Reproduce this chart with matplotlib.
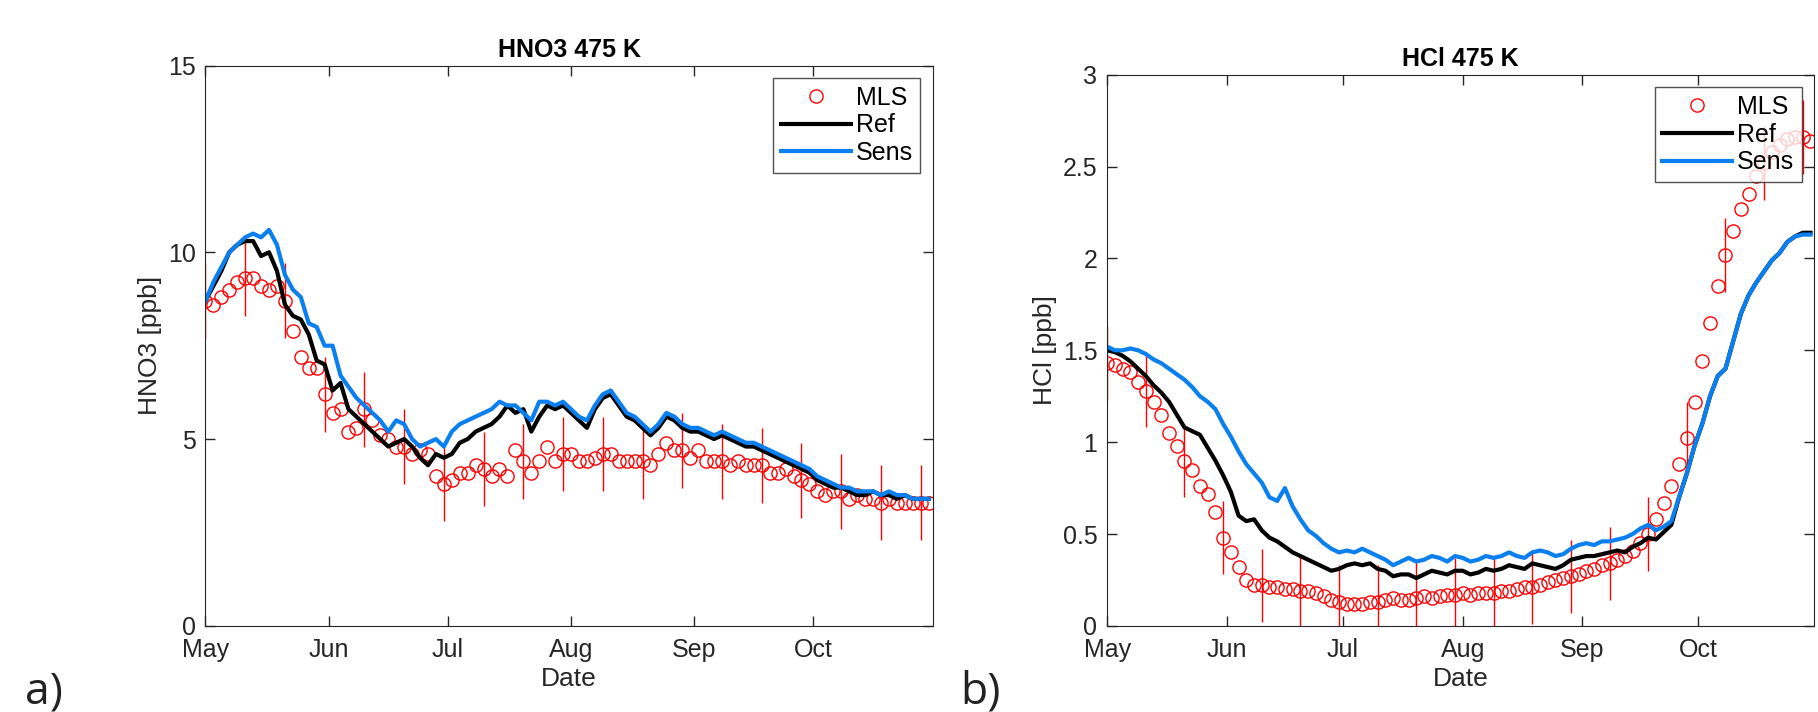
import pandas as pd
import matplotlib
matplotlib.use("Agg")
import matplotlib.pyplot as plt
import matplotlib.dates as mdates

plt.rcParams['font.family'] = ['Liberation Sans', 'DejaVu Sans']

# fechas cada 2 dias desde el 1 de mayo
fechas = pd.date_range('2016-05-01', periods=92, freq='2D')

hno3_ref = [8.7, 9.1, 9.5, 10.0, 10.2, 10.3, 10.3, 9.9, 10.0, 9.5, 8.6, 8.3, 8.2, 7.8, 7.1, 7.0,
            6.3, 6.5, 5.8, 5.6, 5.4, 5.2, 5.0, 4.8, 4.9, 5.0, 4.8, 4.5, 4.3, 4.6, 4.5, 4.6,
            4.9, 5.0, 5.2, 5.3, 5.4, 5.6, 5.9, 5.7, 5.8, 5.2, 5.6, 5.9, 5.8, 5.9, 5.7, 5.5,
            5.3, 5.8, 6.1, 6.2, 5.9, 5.6, 5.5, 5.3, 5.1, 5.3, 5.6, 5.5, 5.3, 5.2, 5.2, 5.1,
            5.0, 5.1, 5.0, 4.9, 4.8, 4.8, 4.7, 4.6, 4.5, 4.4, 4.3, 4.2, 4.1, 3.9, 3.8, 3.7,
            3.7, 3.6, 3.5, 3.5, 3.6, 3.5, 3.5, 3.4, 3.5, 3.4, 3.4, 3.4]
hno3_sens = [8.7, 9.2, 9.6, 10.0, 10.2, 10.4, 10.5, 10.4, 10.6, 10.2, 9.4, 9.0, 8.8, 8.1, 8.0, 7.5,
             7.5, 6.7, 6.4, 6.1, 5.9, 5.7, 5.5, 5.2, 5.5, 5.4, 5.0, 4.8, 4.9, 5.0, 4.8, 5.2,
             5.4, 5.5, 5.6, 5.7, 5.8, 6.0, 5.9, 5.9, 5.7, 5.5, 6.0, 6.0, 5.9, 6.0, 5.8, 5.6,
             5.5, 5.9, 6.2, 6.3, 6.0, 5.7, 5.6, 5.4, 5.2, 5.4, 5.7, 5.6, 5.4, 5.3, 5.3, 5.2,
             5.1, 5.2, 5.1, 5.0, 4.9, 4.9, 4.8, 4.7, 4.6, 4.5, 4.4, 4.3, 4.2, 4.0, 3.9, 3.8,
             3.7, 3.7, 3.6, 3.6, 3.6, 3.5, 3.6, 3.5, 3.5, 3.4, 3.4, 3.4]
hno3_mls = [8.7, 8.6, 8.8, 9.0, 9.2, 9.3, 9.3, 9.1, 9.0, 9.1, 8.7, 7.9, 7.2, 6.9, 6.9, 6.2,
            5.7, 5.8, 5.2, 5.3, 5.8, 5.5, 5.1, 5.0, 4.8, 4.8, 4.6, 4.7, 4.6, 4.0, 3.8, 3.9,
            4.1, 4.1, 4.3, 4.2, 4.0, 4.2, 4.0, 4.7, 4.4, 4.1, 4.4, 4.8, 4.4, 4.6, 4.6, 4.4,
            4.4, 4.5, 4.6, 4.6, 4.4, 4.4, 4.4, 4.4, 4.3, 4.6, 4.9, 4.7, 4.7, 4.5, 4.7, 4.4,
            4.4, 4.4, 4.3, 4.4, 4.3, 4.3, 4.3, 4.1, 4.1, 4.2, 4.0, 3.9, 3.8, 3.6, 3.5, 3.6,
            3.6, 3.4, 3.5, 3.4, 3.4, 3.3, 3.4, 3.3, 3.3, 3.3, 3.3, 3.3]

hcl_ref = [1.50, 1.49, 1.47, 1.44, 1.40, 1.36, 1.31, 1.27, 1.22, 1.15, 1.08, 1.06, 1.04, 0.97, 0.90, 0.82,
           0.73, 0.60, 0.57, 0.58, 0.52, 0.48, 0.46, 0.43, 0.40, 0.38, 0.36, 0.34, 0.32, 0.30, 0.31, 0.33,
           0.34, 0.33, 0.34, 0.31, 0.30, 0.27, 0.28, 0.28, 0.26, 0.28, 0.30, 0.29, 0.28, 0.30, 0.30, 0.28,
           0.29, 0.31, 0.30, 0.31, 0.33, 0.32, 0.31, 0.34, 0.33, 0.32, 0.31, 0.33, 0.36, 0.37, 0.38, 0.38,
           0.39, 0.40, 0.41, 0.40, 0.43, 0.45, 0.48, 0.47, 0.51, 0.55, 0.70, 0.83, 0.98, 1.10, 1.25, 1.36,
           1.40, 1.55, 1.70, 1.80, 1.87, 1.93, 1.99, 2.03, 2.09, 2.12, 2.14, 2.14]
hcl_sens = [1.52, 1.50, 1.50, 1.51, 1.50, 1.48, 1.45, 1.43, 1.40, 1.37, 1.34, 1.30, 1.25, 1.22, 1.18, 1.10,
            1.03, 0.95, 0.88, 0.83, 0.78, 0.70, 0.68, 0.75, 0.65, 0.58, 0.52, 0.49, 0.45, 0.42, 0.40, 0.41,
            0.40, 0.42, 0.40, 0.38, 0.36, 0.33, 0.35, 0.37, 0.35, 0.36, 0.38, 0.37, 0.35, 0.38, 0.37, 0.35,
            0.36, 0.38, 0.37, 0.38, 0.40, 0.38, 0.37, 0.40, 0.41, 0.40, 0.38, 0.39, 0.42, 0.44, 0.45, 0.44,
            0.46, 0.46, 0.47, 0.48, 0.50, 0.53, 0.55, 0.52, 0.54, 0.57, 0.70, 0.83, 0.98, 1.10, 1.25, 1.36,
            1.40, 1.55, 1.70, 1.80, 1.87, 1.93, 1.99, 2.03, 2.09, 2.12, 2.13, 2.13]
hcl_mls = [1.43, 1.42, 1.40, 1.38, 1.33, 1.28, 1.22, 1.15, 1.05, 0.98, 0.90, 0.85, 0.76, 0.72, 0.62, 0.48,
           0.40, 0.32, 0.25, 0.22, 0.22, 0.21, 0.21, 0.20, 0.20, 0.19, 0.19, 0.18, 0.16, 0.14, 0.13, 0.12,
           0.12, 0.12, 0.13, 0.13, 0.14, 0.15, 0.14, 0.14, 0.15, 0.16, 0.15, 0.16, 0.17, 0.17, 0.18, 0.17,
           0.18, 0.18, 0.18, 0.19, 0.19, 0.20, 0.21, 0.21, 0.22, 0.24, 0.25, 0.26, 0.27, 0.28, 0.30, 0.31,
           0.33, 0.34, 0.36, 0.38, 0.41, 0.45, 0.50, 0.58, 0.67, 0.76, 0.88, 1.02, 1.22, 1.44, 1.65, 1.85,
           2.02, 2.15, 2.27, 2.35, 2.45, 2.52, 2.58, 2.62, 2.65, 2.66, 2.66, 2.64]

# barras de error de MLS cada 10 dias
err_hno3 = 1.0
err_hcl = 0.2

meses = pd.date_range('2016-05-01', '2016-10-01', freq='MS')

fig = plt.figure(figsize=(18.18, 7.12), dpi=100)
ax1 = fig.add_axes([0.113, 0.121, 0.400, 0.787])
ax2 = fig.add_axes([0.609, 0.121, 0.389, 0.774])

def panel(ax, mls, ref, sens, err, titulo, ylab, ylim, yticks):
    sel = list(range(0, 92, 5))
    ax.errorbar(fechas[sel], [mls[i] for i in sel], yerr=err, fmt='none',
                ecolor='red', elinewidth=1, capsize=0)
    ax.plot(fechas, mls, 'o', mfc='none', mec='red', ms=9.5, mew=1, label='MLS')
    ax.plot(fechas, ref, color='black', lw=3, label='Ref')
    ax.plot(fechas, sens, color='#0a7ff0', lw=3, label='Sens')
    ax.set_xlim(pd.Timestamp('2016-05-01'), pd.Timestamp('2016-10-31'))
    ax.set_ylim(*ylim)
    ax.set_yticks(yticks)
    ax.set_yticklabels([f'{v:g}' for v in yticks])
    ax.set_xticks(meses)
    ax.xaxis.set_major_formatter(mdates.DateFormatter('%b'))
    ax.tick_params(direction='in', length=7, labelsize=18, top=True, right=True,
                   colors='#262626', width=1)
    ax.tick_params(axis='x', pad=9)
    ax.tick_params(axis='y', pad=7)
    for s in ax.spines.values():
        s.set_color('#262626')
    ax.set_title(titulo, fontsize=18, fontweight='bold')
    ax.set_xlabel('Date', fontsize=19, color='#262626', labelpad=3)
    ax.set_ylabel(ylab, fontsize=19, color='#262626')
    leg = ax.legend(loc='upper right', fontsize=18, fancybox=False, handlelength=2.8,
                    borderpad=0.3, labelspacing=0.15, handletextpad=0.2)
    leg.get_frame().set_edgecolor('#262626')

panel(ax1, hno3_mls, hno3_ref, hno3_sens, err_hno3, 'HNO3 475 K', 'HNO3 [ppb]',
      (0, 15), [0, 5, 10, 15])
panel(ax2, hcl_mls, hcl_ref, hcl_sens, err_hcl, 'HCl 475 K', 'HCl [ppb]',
      (0, 3), [0, 0.5, 1, 1.5, 2, 2.5, 3])

fig.text(0.014, 0.012, 'a)', fontsize=32, family='Open Sans', color='#222222')
fig.text(0.528, 0.012, 'b)', fontsize=32, family='Open Sans', color='#222222')

plt.savefig('out.png', dpi=100)
